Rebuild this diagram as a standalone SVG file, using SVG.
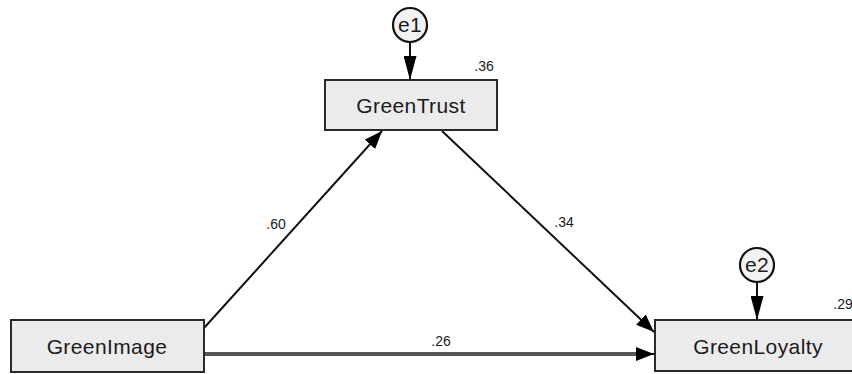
<svg xmlns="http://www.w3.org/2000/svg" width="852" height="374" viewBox="0 0 852 374">
<style>
.box{fill:#ebebeb;stroke:#2a2a2a;stroke-width:2}
.err{fill:#f2f2f2;stroke:#111;stroke-width:2.2}
.lbl{font-family:"Liberation Sans",Arial,sans-serif;font-size:21px;fill:#1a1a1a;text-anchor:middle;letter-spacing:0.4px}
.num{font-family:"Liberation Sans",Arial,sans-serif;font-size:14px;fill:#1a1a1a;text-anchor:middle}
.con{stroke:#111;stroke-width:2;fill:none}
</style>
<defs>
<marker id="ahe" viewBox="0 0 10 10" refX="10" refY="5" markerWidth="24" markerHeight="13" markerUnits="userSpaceOnUse" orient="auto" preserveAspectRatio="none">
<path d="M0,0 L10,5 L0,10 z" fill="#000"/>
</marker>
<marker id="ahb" viewBox="0 0 10 10" refX="10" refY="5" markerWidth="18" markerHeight="14" markerUnits="userSpaceOnUse" orient="auto" preserveAspectRatio="none">
<path d="M0,0 L10,5 L0,10 z" fill="#000"/>
</marker>
</defs>
<g id="connectors">
<line class="con" x1="410" y1="43" x2="410" y2="80" marker-end="url(#ahe)"/>
<line class="con" x1="757" y1="283" x2="757" y2="320" marker-end="url(#ahe)"/>
<line class="con" x1="204" y1="328" x2="382" y2="131" marker-end="url(#ahb)"/>
<line class="con" x1="442" y1="131" x2="654" y2="332" marker-end="url(#ahb)"/>
<line x1="204" y1="354" x2="640" y2="354" stroke="#555" stroke-width="4"/>
<line x1="636" y1="354" x2="654" y2="354" stroke="#000" stroke-width="2" marker-end="url(#ahb)"/>
<text class="num" x="276" y="229">.60</text>
<text class="num" x="564" y="227">.34</text>
<text class="num" x="441" y="346">.26</text>
</g>
<g id="e1">
<circle class="err" cx="410" cy="25" r="17"/>
<text class="lbl" x="410" y="32">e1</text>
</g>
<g id="e2">
<circle class="err" cx="757" cy="265" r="17"/>
<text class="lbl" x="757" y="272">e2</text>
</g>
<g id="GreenTrust">
<rect class="box" x="325" y="80" width="172" height="50"/>
<text class="lbl" x="411" y="113">GreenTrust</text>
<text class="num" x="484" y="71">.36</text>
</g>
<g id="GreenImage">
<rect class="box" x="11" y="320" width="193" height="52"/>
<text class="lbl" x="107" y="354">GreenImage</text>
</g>
<g id="GreenLoyalty">
<rect class="box" x="655" y="320" width="205" height="51"/>
<text class="lbl" x="758" y="354">GreenLoyalty</text>
<text class="num" x="843" y="309">.29</text>
</g>
</svg>
